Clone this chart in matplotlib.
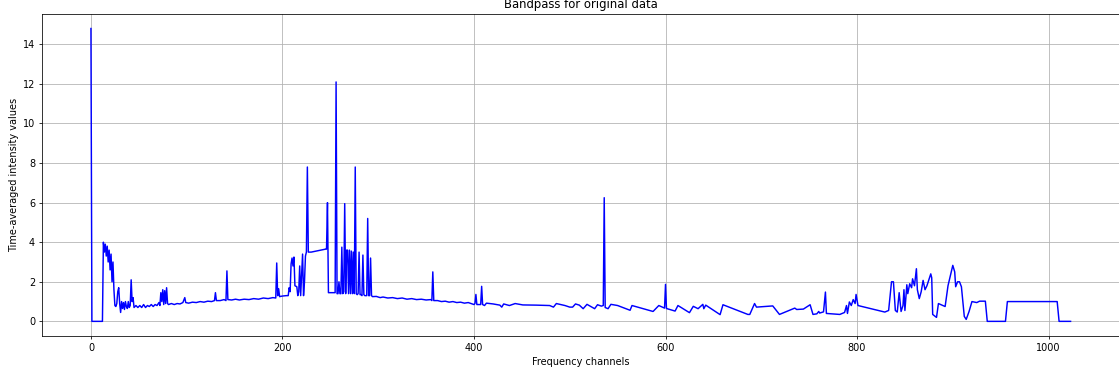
import matplotlib
matplotlib.use("Agg")
import matplotlib.pyplot as plt

channels = [
    0, 1, 12, 13, 14, 15, 16, 17, 18, 19, 20, 21, 22, 23, 24, 25, 26, 27, 28, 29,
    30, 31, 32, 33, 34, 35, 36, 37, 38, 39, 40, 41, 42, 43, 44, 45, 47, 49, 51, 53,
    55, 57, 59, 61, 63, 65, 67, 69, 71, 72, 73, 74, 75, 76, 77, 78, 79, 80, 81, 84,
    87, 90, 93, 96, 98, 99, 102, 106, 110, 114, 118, 122, 126, 129, 130, 131, 135, 139, 141, 142,
    143, 147, 151, 155, 160, 165, 170, 175, 180, 185, 190, 193, 194, 195, 196, 197, 200, 204, 206, 207,
    208, 209, 210, 211, 212, 213, 215, 216, 217, 218, 219, 220, 221, 222, 223, 224, 225, 226, 227, 230,
    235, 240, 245, 246, 247, 248, 254, 255, 256, 257, 258, 259, 260, 261, 262, 263, 264, 265, 266, 267,
    268, 269, 270, 271, 272, 273, 274, 275, 276, 277, 278, 279, 280, 281, 282, 283, 284, 285, 286, 288,
    289, 290, 291, 292, 293, 294, 298, 302, 305, 310, 315, 320, 325, 330, 335, 340, 345, 350, 355, 356,
    357, 358, 362, 366, 370, 374, 378, 382, 386, 390, 394, 398, 400, 401, 402, 403, 407, 408, 409, 411,
    413, 420, 427, 429, 431, 437, 443, 451, 465, 479, 483, 486, 495, 500, 503, 506, 510, 514, 518, 526,
    529, 533, 535, 536, 537, 540, 543, 550, 563, 565, 587, 593, 599, 600, 601, 610, 613, 625, 629, 634,
    639, 640, 642, 657, 660, 686, 688, 692, 693, 695, 712, 719, 735, 737, 744, 751, 754, 758, 760, 761,
    765, 767, 768, 782, 787, 789, 790, 792, 794, 796, 798, 799, 801, 829, 833, 836, 838, 840, 842, 844,
    846, 848, 849, 850, 852, 853, 855, 857, 858, 860, 862, 863, 865, 867, 869, 871, 873, 875, 877, 878,
    879, 883, 885, 892, 895, 900, 902, 903, 905, 907, 909, 912, 914, 917, 920, 925, 928, 934, 936, 955,
    957, 1009, 1011, 1023,
]

# Time-averaged intensity at each of those channels
intensity = [
    14.8, 0.0, 0.0, 4.0, 3.5, 3.9, 3.3, 3.8, 3.0, 3.6, 2.6, 3.4, 2.0, 3.0, 1.6, 0.8, 0.75, 0.9, 1.5, 1.7,
    0.9, 0.45, 1.0, 0.65, 0.95, 0.6, 1.0, 0.75, 0.65, 1.0, 0.7, 0.8, 2.1, 1.0, 1.2, 0.7, 0.8, 0.7, 0.8, 0.7,
    0.85, 0.7, 0.8, 0.75, 0.85, 0.75, 0.85, 0.8, 0.95, 0.8, 1.45, 1.0, 1.6, 0.85, 1.55, 0.9, 1.7, 0.9, 0.85, 0.9,
    0.85, 0.9, 0.88, 0.95, 1.2, 0.95, 0.92, 0.97, 0.95, 1.0, 0.97, 1.02, 1.0, 1.05, 1.45, 1.05, 1.05, 1.1, 1.05, 2.55,
    1.1, 1.08, 1.12, 1.08, 1.12, 1.1, 1.15, 1.12, 1.18, 1.15, 1.2, 1.18, 2.95, 1.3, 1.65, 1.25, 1.28, 1.3, 1.3, 1.7,
    1.5, 2.9, 3.2, 2.8, 3.25, 1.8, 1.75, 1.3, 1.5, 2.8, 1.3, 2.4, 3.4, 1.3, 2.0, 3.3, 3.5, 7.8, 3.5, 3.5,
    3.55, 3.6, 3.65, 3.65, 6.0, 1.45, 1.45, 1.45, 12.1, 1.4, 1.4, 2.0, 1.4, 1.4, 3.75, 1.4, 1.5, 5.95, 1.4, 3.6,
    3.6, 1.4, 3.6, 1.4, 3.55, 1.4, 3.5, 1.4, 7.8, 1.4, 1.35, 1.4, 3.5, 1.35, 1.35, 1.3, 3.35, 1.35, 1.3, 1.3,
    5.2, 1.3, 1.3, 3.2, 1.3, 1.25, 1.26, 1.2, 1.23, 1.18, 1.2, 1.15, 1.18, 1.12, 1.15, 1.1, 1.12, 1.08, 1.1, 1.05,
    2.5, 1.05, 1.05, 1.0, 1.02, 0.97, 1.0, 0.95, 0.97, 0.92, 0.95, 0.88, 0.85, 0.9, 1.36, 0.85, 0.85, 1.77, 0.85, 0.8,
    0.92, 0.88, 0.82, 0.72, 0.88, 0.8, 0.9, 0.83, 0.82, 0.8, 0.72, 0.9, 0.8, 0.72, 0.72, 0.88, 0.82, 0.64, 0.86, 0.64,
    0.84, 0.77, 0.8, 6.25, 0.7, 0.64, 0.86, 0.8, 0.56, 0.8, 0.5, 0.8, 0.67, 1.87, 0.65, 0.52, 0.8, 0.44, 0.76, 0.64,
    0.86, 0.64, 0.82, 0.34, 0.84, 0.35, 0.35, 0.8, 0.9, 0.72, 0.78, 0.35, 0.67, 0.6, 0.62, 0.84, 0.35, 0.38, 0.5, 0.42,
    0.48, 1.48, 0.4, 0.35, 0.45, 0.8, 0.4, 0.98, 0.8, 1.1, 0.9, 1.36, 0.8, 0.47, 0.55, 2.0, 2.0, 0.55, 0.47, 1.45,
    0.5, 0.8, 1.6, 0.55, 1.85, 1.4, 1.9, 1.7, 2.15, 1.8, 2.66, 1.6, 1.15, 1.5, 2.07, 1.6, 1.8, 2.1, 2.4, 2.2,
    0.35, 0.2, 0.9, 0.75, 1.8, 2.83, 2.5, 1.75, 2.0, 2.0, 1.75, 0.25, 0.1, 0.5, 1.0, 0.95, 1.02, 1.02, 0.0, 0.0,
    1.0, 1.0, 0.0, 0.0,
]

fig = plt.figure(figsize=(1119 / 70, 375 / 70), dpi=70)
ax = fig.add_axes([0.0375, 0.104, 0.963, 0.859])

ax.plot(channels, intensity, color='blue', linewidth=1.5)

ax.set_title('Bandpass for original data')
ax.set_xlabel('Frequency channels')
ax.set_ylabel('Time-averaged intensity values')
ax.grid(True)

fig.savefig('out.png', dpi=70)
